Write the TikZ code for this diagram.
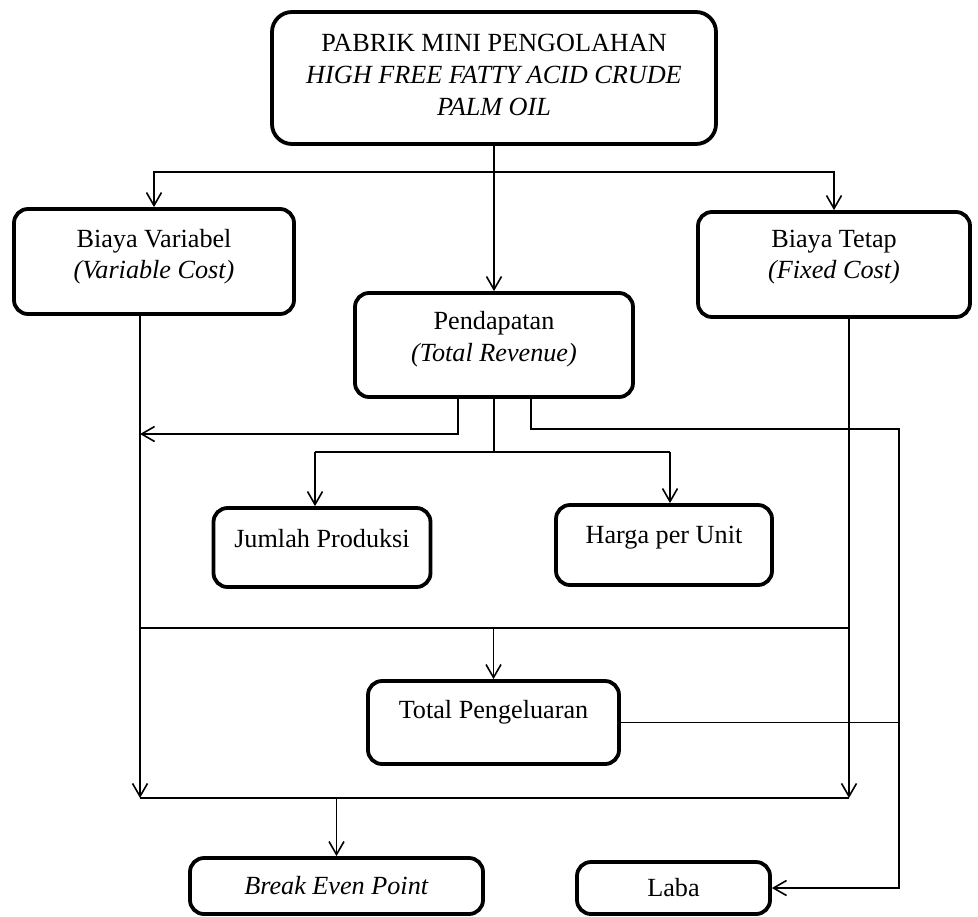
\documentclass[tikz,border=0pt]{standalone}
\usepackage{fontspec}
\setmainfont{Liberation Serif}
\usetikzlibrary{arrows.meta}
\newcommand\dn[1]{\rule[-#1]{0pt}{#1}}
\begin{document}
\begin{tikzpicture}[x=0.5pt,y=-0.5pt,
  box/.style={draw, line width=1.9pt, rounded corners=7pt, inner sep=0pt, align=center,
    font=\fontsize{13.1pt}{15.5pt}\selectfont},
  bigbox/.style={box, rounded corners=10pt, font=\fontsize{13.1pt}{16pt}\selectfont},
  conn/.style={draw, line width=0.8pt},
  arr/.style={conn, -{Straight Barb[length=6.5pt,width=7.5pt,line width=0.8pt]}}]
\useasboundingbox (0,0) rectangle (978,916);

% boxes
\node[bigbox, minimum width=222pt, minimum height=66pt] (top) at (494,78)
  {PABRIK MINI PENGOLAHAN\\ \textit{HIGH FREE FATTY ACID CRUDE}\\ \textit{PALM OIL}\dn{3pt}};
\node[box, minimum width=140pt, minimum height=52.5pt] (bv) at (154,261.5)
  {Biaya Variabel\\ \textit{(Variable Cost)}\dn{7.3pt}};
\node[box, minimum width=136pt, minimum height=52.5pt] (bt) at (834,264.5)
  {Biaya Tetap\\ \textit{(Fixed Cost)}\dn{10.3pt}};
\node[bigbox, rounded corners=7pt, minimum width=139pt, minimum height=52pt] (pend) at (494,345)
  {Pendapatan\\ \textit{(Total Revenue)}\dn{8.8pt}};
\node[box, minimum width=108.5pt, minimum height=39.5pt] (jp) at (322,547.5)
  {Jumlah Produksi\dn{9pt}};
\node[box, minimum width=108pt, minimum height=40pt] (hu) at (664,545)
  {Harga per Unit\dn{10.5pt}};
\node[box, minimum width=125.5pt, minimum height=41.5pt] (tp) at (493.5,722.5)
  {Total Pengeluaran\dn{13pt}};
\node[box, minimum width=146.5pt, minimum height=28pt] (bep) at (336.5,886)
  {\textit{Break Even Point}};
\node[box, minimum width=96.5pt, minimum height=26pt] (laba) at (673.5,888)
  {Laba};

% helper coordinates
\coordinate (h1) at (494,172);
\coordinate (lx) at (140,0);
\coordinate (rx) at (849,0);
\coordinate (fx) at (899,0);
\coordinate (bus1) at (0,628);
\coordinate (bus2) at (0,798);
\coordinate (p1) at (458,0);
\coordinate (p3) at (531,0);
\coordinate (yA) at (0,434);
\coordinate (yB) at (0,452);
\coordinate (yC) at (0,429);
\coordinate (ajp) at (315,452);
\coordinate (ahu) at (670,452);

% top distribution
\draw[arr] (top.south) -- (pend.north);
\draw[arr] (h1) -| (bv.north);
\draw[arr] (h1) -| (bt.north);

% cost verticals
\draw[arr] (bv.south -| lx) -- (lx |- bus2);
\draw[arr] (bt.south -| rx) -- (rx |- bus2);

% buses
\draw[conn] (lx |- bus1) -- (rx |- bus1);
\draw[arr] (tp.north |- bus1) -- (tp.north);
\draw[conn] (lx |- bus2) -- (rx |- bus2);
\draw[arr] (bep.north |- bus2) -- (bep.north);

% pendapatan outputs
\draw[arr] (pend.south -| p1) |- (lx |- yA);
\draw[conn] (pend.south) -- (pend.south |- yB);
\draw[conn] (ajp) -- (ahu);
\draw[arr] (ajp) -- (ajp |- jp.north);
\draw[arr] (ahu) -- (ahu |- hu.north);
\draw[arr] (pend.south -| p3) |- (fx |- yC) -- (fx |- laba.east) -- (laba.east);

% total pengeluaran to laba line
\draw[conn] (tp.east) -- (tp.east -| fx);
\end{tikzpicture}
\end{document}
